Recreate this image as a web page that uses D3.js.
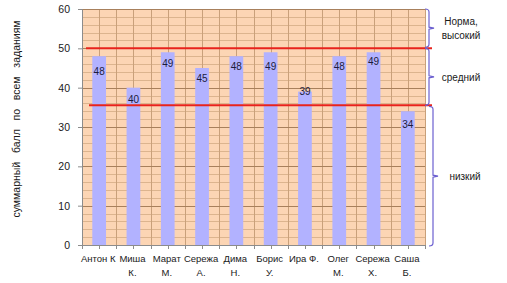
<!DOCTYPE html>
<html>
<head>
<meta charset="utf-8">
<script src="https://cdn.jsdelivr.net/npm/d3@7"></script>
<style>
  body { margin: 0; background: #fff; }
  text { font-family: "Liberation Sans", Arial, sans-serif; }
</style>
</head>
<body>
<div class="chart"></div>
<script>
// Data
var names = ["Антон К", "Миша К.", "Марат М.", "Сережа А.", "Дима Н.",
             "Борис У.", "Ира Ф.", "Олег М.", "Сережа Х.", "Саша Б."];
var scores = [48, 40, 49, 45, 48, 49, 39, 48, 49, 34];
var yTicks = [0, 10, 20, 30, 40, 50, 60];
var levelLines = [50, 35.5];
var levels = [
  {from: 50, to: 60, label: ["Норма,", "высокий"]},
  {from: 35.5, to: 50, label: ["средний"]},
  {from: 0, to: 35.5, label: ["низкий"]}
];
var yTitle = "суммарный   балл   по   всем   заданиям";

// labels were dragged by hand in the original, so offsets differ a bit
var labelDrop = [19, 15, 14.5, 14, 14, 17.5, 3.5, 14, 13, 17];

var svgWidth = 507, svgHeight = 283;
var margin = {top: 9, right: 82, bottom: 38, left: 82};
var width = svgWidth - margin.left - margin.right;
var height = svgHeight - margin.top - margin.bottom;

var svg = d3.select(".chart").append("svg")
  .attr("width", svgWidth).attr("height", svgHeight);
var chart = svg.append("g")
  .attr("transform", "translate(" + margin.left + "," + margin.top + ")");

var x = d3.scaleBand().domain(names).range([0, width]).paddingInner(0).paddingOuter(0);
var y = d3.scaleLinear().domain([0, 60]).range([height, 0]);

// plot background
chart.append("rect").attr("width", width).attr("height", height).attr("fill", "#fcd5b4");

// minor horizontal grid
chart.append("g").selectAll("line")
  .data(d3.range(0, 61, 2).filter(function(v) { return v % 10 !== 0; }))
  .enter().append("line")
  .attr("x1", 0).attr("x2", width)
  .attr("y1", function(d) { return Math.round(y(d)) + 0.5; })
  .attr("y2", function(d) { return Math.round(y(d)) + 0.5; })
  .attr("stroke", "#dcb48e").attr("stroke-width", 1);

// vertical grid at half categories
var halfSteps = d3.range(0, names.length * 2 + 1);
chart.append("g").selectAll("line")
  .data(halfSteps).enter().append("line")
  .attr("x1", function(d) { return Math.round(d * x.bandwidth() / 2) + 0.5; })
  .attr("x2", function(d) { return Math.round(d * x.bandwidth() / 2) + 0.5; })
  .attr("y1", 0).attr("y2", height)
  .attr("stroke", "#c9a07a").attr("stroke-width", 1);

// major horizontal grid
chart.append("g").selectAll("line")
  .data(yTicks).enter().append("line")
  .attr("x1", 0).attr("x2", width)
  .attr("y1", function(d) { return Math.round(y(d)) + 0.5; })
  .attr("y2", function(d) { return Math.round(y(d)) + 0.5; })
  .attr("stroke", "#a8805c").attr("stroke-width", 1);

// bars
var barW = x.bandwidth() * 0.4;
chart.selectAll(".bar").data(scores).enter().append("rect")
  .attr("class", "bar")
  .attr("x", function(d, i) { return x(names[i]) + (x.bandwidth() - barW) / 2; })
  .attr("width", barW)
  .attr("y", function(d) { return y(d); })
  .attr("height", function(d) { return height - y(d); })
  .attr("fill", "#b2b2ff");

// value labels
chart.selectAll(".val").data(scores).enter().append("text")
  .attr("class", "val")
  .attr("x", function(d, i) { return x(names[i]) + x.bandwidth() / 2; })
  .attr("y", function(d, i) { return y(d) + labelDrop[i]; })
  .attr("text-anchor", "middle")
  .attr("font-size", "10px")
  .attr("fill", "#1c1c3c")
  .text(function(d) { return d; });

// red level lines
chart.selectAll(".lvl").data(levelLines).enter().append("line")
  .attr("x1", function(d, i) { return i === 0 ? 4 : 7; })
  .attr("x2", width + 7)
  .attr("y1", function(d) { return y(d); })
  .attr("y2", function(d) { return y(d); })
  .attr("stroke", "#e8231c").attr("stroke-width", 2);

// y axis
var leftAxis = d3.axisLeft(y).tickValues(yTicks).tickSize(4).tickPadding(8);
var gy = chart.append("g").call(leftAxis);
gy.select(".domain").attr("stroke", "#8c8c8c");
gy.selectAll(".tick line").attr("stroke", "#8c8c8c");
gy.selectAll("text").attr("font-size", "10.5px").attr("fill", "#1a1a1a");

// x axis
var gx = chart.append("g").attr("transform", "translate(0," + height + ")");
gx.append("line").attr("x1", 0).attr("x2", width).attr("y1", 0.5).attr("y2", 0.5)
  .attr("stroke", "#8c8c8c");
gx.selectAll(".tk").data(halfSteps).enter().append("line")
  .attr("x1", function(d) { return Math.round(d * x.bandwidth() / 2) + 0.5; })
  .attr("x2", function(d) { return Math.round(d * x.bandwidth() / 2) + 0.5; })
  .attr("y1", 0).attr("y2", 4).attr("stroke", "#8c8c8c");
var cat = gx.selectAll(".cat").data(names).enter().append("text")
  .attr("class", "cat")
  .attr("text-anchor", "middle")
  .attr("font-size", "9.5px")
  .attr("fill", "#1a1a1a");
cat.each(function(d) {
  var parts = d === "Антон К" || d === "Ира Ф." ? [d] : d.split(" ");
  var t = d3.select(this);
  parts.forEach(function(p, i) {
    t.append("tspan")
      .attr("x", x(d) + x.bandwidth() / 2 - 1)
      .attr("y", 17 + i * 14)
      .text(p);
  });
});

// y title
chart.append("text")
  .attr("transform", "rotate(-90)")
  .attr("x", -(height / 2) + 8)
  .attr("y", -62)
  .attr("text-anchor", "middle")
  .attr("font-size", "10.5px")
  .attr("fill", "#1a1a1a")
  .style("white-space", "pre")
  .text(yTitle);

// brackets for levels
var bracketX = [width + 4, width + 4, width + 8];
levels.forEach(function(l, i) {
  var bx = bracketX[i];
  var y0 = y(l.to) + (i === 2 ? 1 : 0), y1 = y(l.from) - (i === 0 ? 1 : 0);
  if (i === 2) y1 = y(l.from) + 1;
  var ym = (y0 + y1) / 2;
  chart.append("path")
    .attr("d", "M" + (bx - 4) + "," + y0 + " Q" + bx + "," + y0 + " " + bx + "," + (y0 + 3) +
      " L" + bx + "," + (ym - 1) + " L" + (bx + 5) + "," + ym + " L" + bx + "," + (ym + 1) +
      " L" + bx + "," + (y1 - 3) + " Q" + bx + "," + y1 + " " + (bx - 4) + "," + y1)
    .attr("fill", "none").attr("stroke", "#6c60d0").attr("stroke-width", 1.2);
  var lt = chart.append("text")
    .attr("text-anchor", "middle")
    .attr("font-size", "10px")
    .attr("fill", "#1a1a1a");
  l.label.forEach(function(s, j) {
    lt.append("tspan")
      .attr("x", width + 36 + (i === 2 ? 4 : 0))
      .attr("y", ym + 4 + (j - (l.label.length - 1) / 2) * 14)
      .text(s);
  });
});
</script>
</body>
</html>
